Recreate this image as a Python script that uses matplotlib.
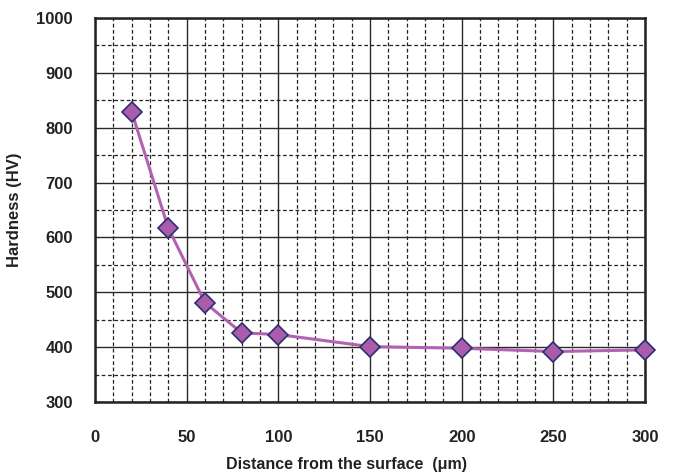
import matplotlib
matplotlib.use("Agg")
import matplotlib.pyplot as plt
from matplotlib.ticker import MultipleLocator

plt.rcParams['font.family'] = ['Liberation Sans Narrow', 'Liberation Sans', 'DejaVu Sans']
plt.rcParams['font.weight'] = 'bold'

# depth below surface (um) and measured hardness (HV)
distance = [20, 40, 60, 80, 100, 150, 200, 250, 300]
hardness = [829, 617, 481, 426, 423, 401, 398, 392, 395]

fig = plt.figure(figsize=(6.77, 4.74), dpi=100)
ax = fig.add_axes([95 / 677, 1 - 402 / 474, 550 / 677, 384 / 474])

ax.plot(distance, hardness, color='#B262B2', linewidth=2.2, marker='D',
        markersize=10, markerfacecolor='#A85CAB', markeredgecolor='#2B2F6B',
        markeredgewidth=1.2, zorder=5, clip_on=False)

ax.set_xlim(0, 300)
ax.set_ylim(300, 1000)
ax.xaxis.set_major_locator(MultipleLocator(50))
ax.xaxis.set_minor_locator(MultipleLocator(10))
ax.yaxis.set_major_locator(MultipleLocator(100))
ax.yaxis.set_minor_locator(MultipleLocator(50))

ax.grid(which='major', color='#2a2a2a', linestyle='-', linewidth=1.0)
ax.grid(which='minor', color='#222222', linestyle=(0, (3, 2)), linewidth=0.9)
ax.set_axisbelow(True)

ax.tick_params(which='both', length=0)
ax.tick_params(axis='x', pad=20, labelsize=12)
ax.tick_params(axis='y', pad=16, labelsize=12)
for lab in ax.get_xticklabels() + ax.get_yticklabels():
    lab.set_fontweight('bold')
    lab.set_color('#222222')

for sp in ax.spines.values():
    sp.set_linewidth(1.8)
    sp.set_color('#222222')

ax.set_xlabel('Distance from the surface  (μm)', fontsize=11.5, fontweight='bold',
              color='#222222', labelpad=9)
ax.xaxis.label.set_x((346 - 95) / 550)
ax.set_ylabel('Hardness (HV)', fontsize=12, fontweight='bold',
              color='#222222', labelpad=10)

fig.savefig('out.png', dpi=100)
